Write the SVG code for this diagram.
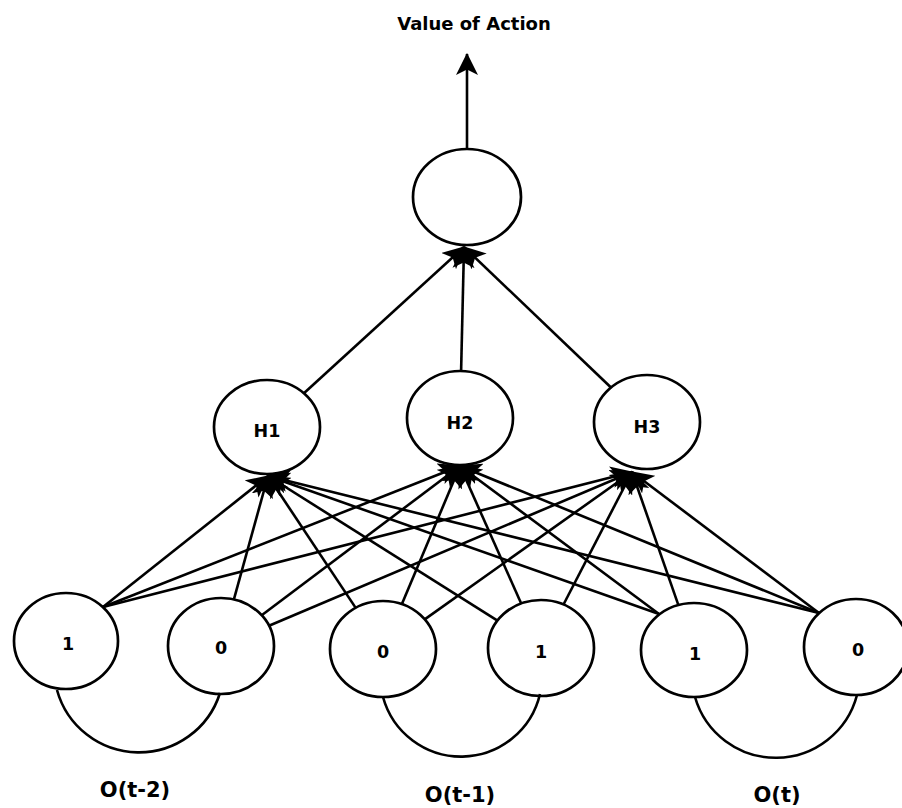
<svg xmlns="http://www.w3.org/2000/svg" width="902" height="808" viewBox="0 0 902 808">
<style>
.node ellipse{fill:#fff;stroke:#000;stroke-width:2.7}
.node text{font-family:"DejaVu Sans",Verdana,sans-serif;font-weight:bold;font-size:17.5px;fill:#000;text-anchor:middle}
.edge{stroke:#000;stroke-width:2.6;fill:none}
.arrow{marker-end:url(#ah)}
.lbl{font-family:"DejaVu Sans",Verdana,sans-serif;font-weight:bold;fill:#000;text-anchor:middle}
</style>
<defs>
<marker id="ah" markerUnits="userSpaceOnUse" viewBox="0 0 20 20" refX="19" refY="10" markerWidth="22" markerHeight="22" orient="auto">
<path d="M0,0 L20,10 L0,20 L5,10 Z" fill="#000"/>
</marker>
</defs>
<rect width="902" height="808" fill="#fff"/>
<text class="lbl" x="474" y="30" font-size="18">Value of Action</text>

<g id="out" class="node"><ellipse cx="467" cy="197" rx="54" ry="48"/></g>
<g id="H1" class="node"><ellipse cx="267" cy="427" rx="53" ry="47"/><text x="267" y="437">H1</text></g>
<g id="H2" class="node"><ellipse cx="460" cy="418" rx="53" ry="47"/><text x="460" y="429">H2</text></g>
<g id="H3" class="node"><ellipse cx="647" cy="422" rx="53" ry="47"/><text x="647" y="433">H3</text></g>
<g id="I1" class="node"><ellipse cx="66" cy="641" rx="52" ry="48"/><text x="68" y="650">1</text></g>
<g id="I2" class="node"><ellipse cx="221" cy="646" rx="53" ry="48"/><text x="221" y="654">0</text></g>
<g id="I3" class="node"><ellipse cx="383" cy="649" rx="53" ry="48"/><text x="383" y="658">0</text></g>
<g id="I4" class="node"><ellipse cx="541" cy="648" rx="53" ry="48"/><text x="541" y="658">1</text></g>
<g id="I5" class="node"><ellipse cx="694" cy="650" rx="53" ry="47"/><text x="695" y="660">1</text></g>
<g id="I6" class="node"><ellipse cx="856" cy="647" rx="52" ry="48"/><text x="858" y="656">0</text></g>

<g id="connectors">
<line class="edge arrow" x1="467" y1="149" x2="467" y2="54"/>
<line class="edge arrow" x1="303.9" y1="393.3" x2="464" y2="247"/>
<line class="edge arrow" x1="461.1" y1="371" x2="464" y2="247"/>
<line class="edge arrow" x1="611" y1="387.5" x2="464" y2="247"/>

<line class="edge arrow" x1="103" y1="607" x2="268" y2="476"/>
<line class="edge arrow" x1="103" y1="607" x2="460" y2="466"/>
<line class="edge arrow" x1="103" y1="607" x2="632" y2="472"/>

<line class="edge arrow" x1="233.9" y1="599.4" x2="268" y2="476"/>
<line class="edge arrow" x1="261.7" y1="615.3" x2="460" y2="466"/>
<line class="edge arrow" x1="269" y1="625.7" x2="632" y2="472"/>

<line class="edge arrow" x1="355.7" y1="607.9" x2="268" y2="476"/>
<line class="edge arrow" x1="401.9" y1="604.1" x2="460" y2="466"/>
<line class="edge arrow" x1="424.7" y1="619.4" x2="632" y2="472"/>

<line class="edge arrow" x1="497.5" y1="620.6" x2="268" y2="476"/>
<line class="edge arrow" x1="521.2" y1="603.5" x2="460" y2="466"/>
<line class="edge arrow" x1="563.5" y1="604.5" x2="632" y2="472"/>

<line class="edge arrow" x1="659" y1="614" x2="268" y2="476"/>
<line class="edge arrow" x1="659" y1="614" x2="460" y2="466"/>
<line class="edge arrow" x1="678.4" y1="605.1" x2="632" y2="472"/>

<line class="edge arrow" x1="819" y1="613" x2="268" y2="476"/>
<line class="edge arrow" x1="819" y1="613" x2="460" y2="466"/>
<line class="edge arrow" x1="819" y1="613" x2="632" y2="472"/>

<path class="edge" d="M57,690 A85,85 0 0 0 220,693"/>
<path class="edge" d="M383,697 A81,81 0 0 0 540,694"/>
<path class="edge" d="M695,697 A84,84 0 0 0 857,695"/>
</g>

<g id="labels">
<text class="lbl" x="135" y="797" font-size="21">O(t-2)</text>
<text class="lbl" x="460" y="802" font-size="21">O(t-1)</text>
<text class="lbl" x="777" y="802" font-size="21">O(t)</text>
</g>
</svg>
